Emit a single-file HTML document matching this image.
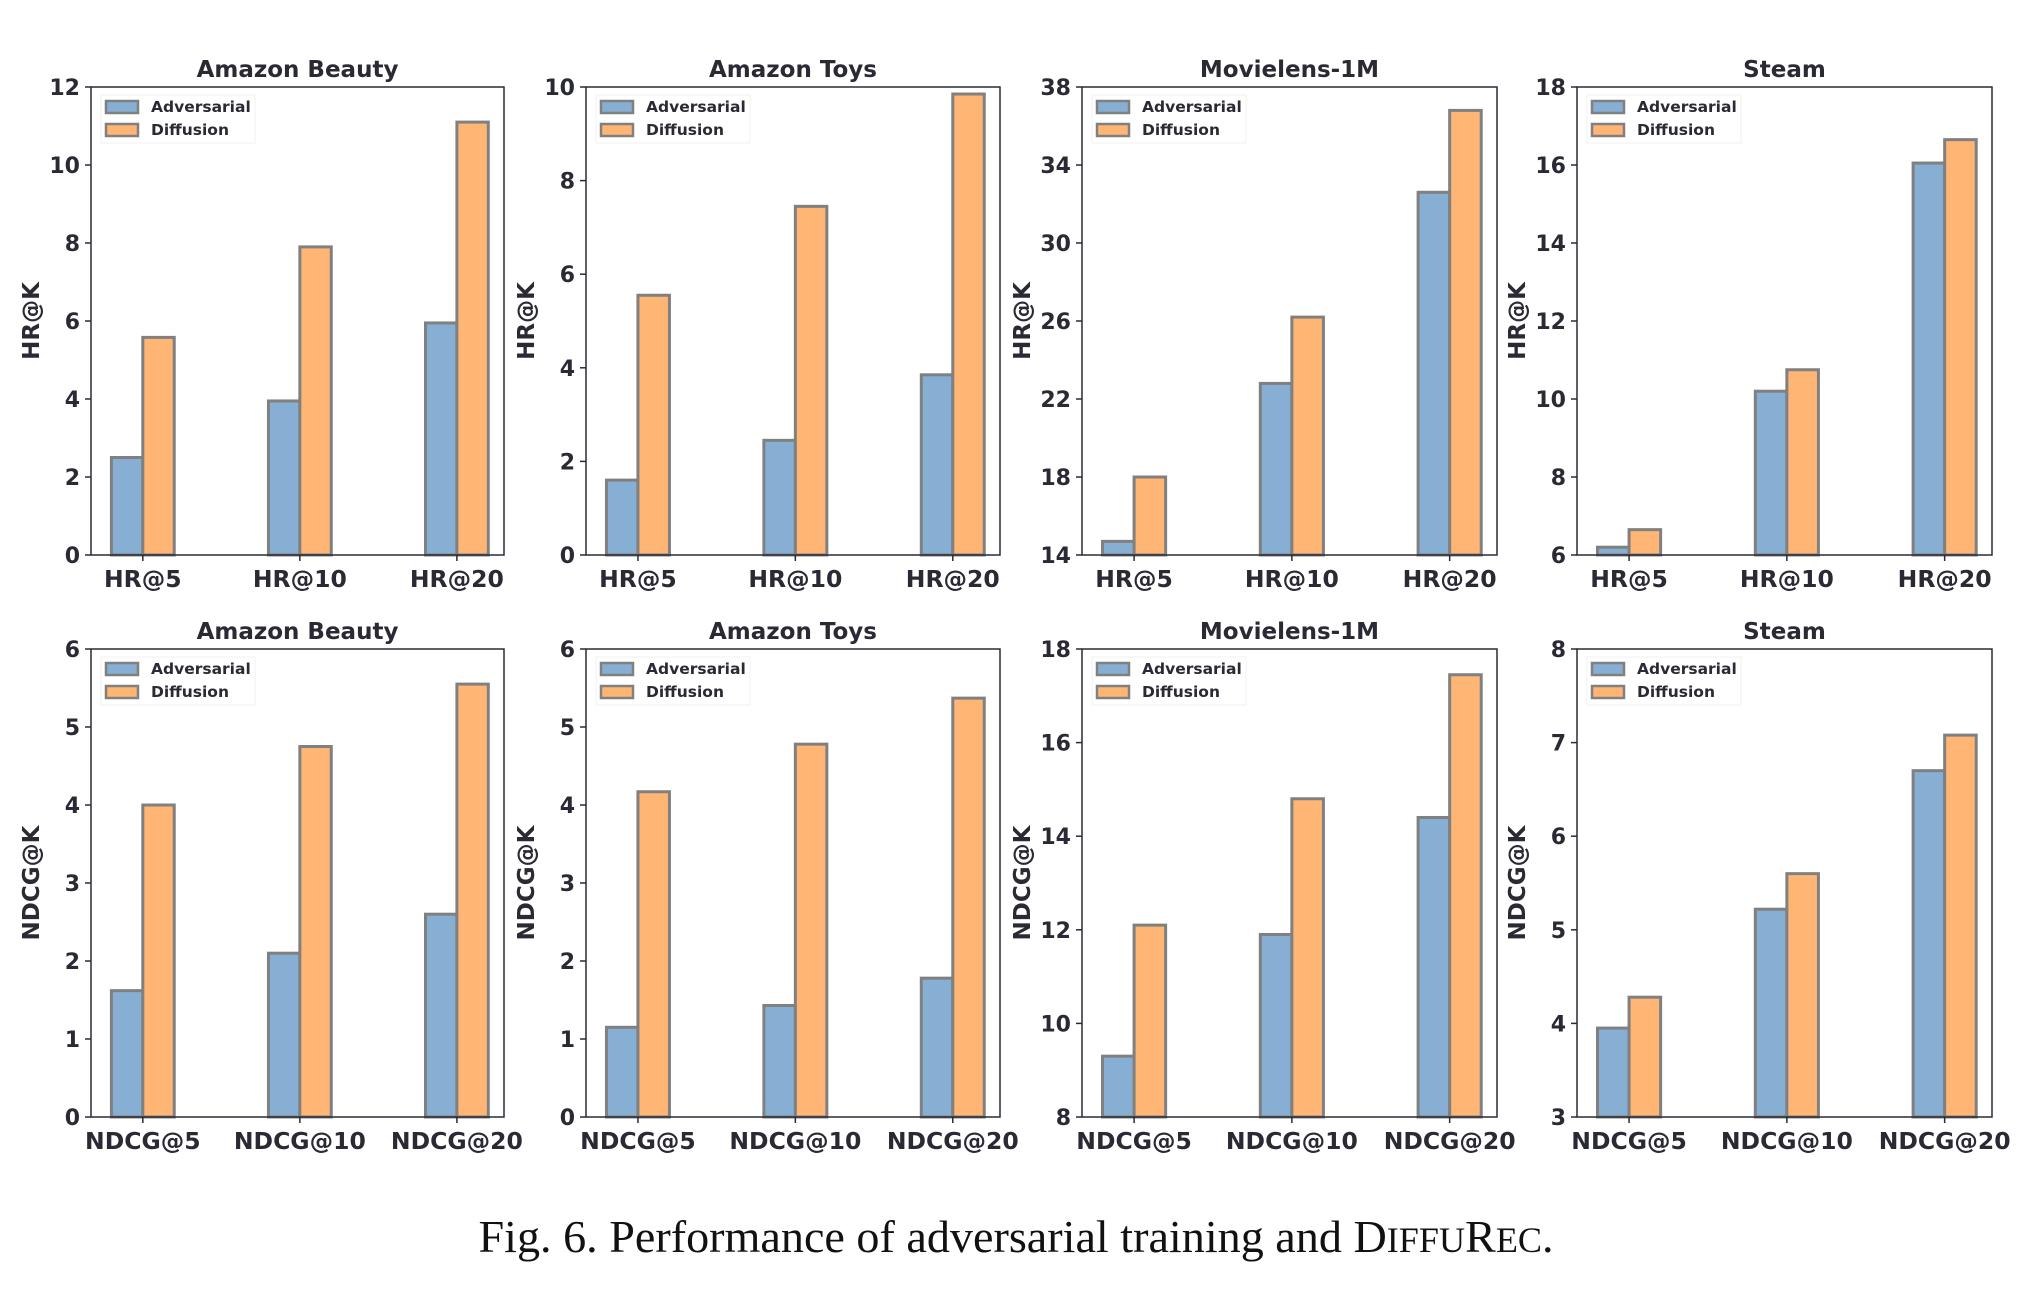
<!DOCTYPE html>
<html><head><meta charset="utf-8">
<style>
html,body{margin:0;padding:0;background:#fff;}
svg{display:block;}
text{font-family:"DejaVu Sans","Liberation Sans",sans-serif;font-weight:bold;fill:#2a2a35;}
.cap{font-family:"Liberation Serif",serif;font-weight:normal;fill:#111;}
</style></head>
<body>
<svg id="fig" width="2032" height="1304" viewBox="0 0 2032 1304" xmlns="http://www.w3.org/2000/svg">
<text class="cap" x="1016" y="1252" text-anchor="middle" font-size="46" textLength="1075" lengthAdjust="spacingAndGlyphs">Fig. 6.  Performance of adversarial training and D<tspan font-size="36">IFFU</tspan>R<tspan font-size="36">EC</tspan>.</text>
</svg>
<script>
const titles = ["Amazon Beauty","Amazon Toys","Movielens-1M","Steam"];
const hrCats = ["HR@5","HR@10","HR@20"];
const ndcgCats = ["NDCG@5","NDCG@10","NDCG@20"];
const hrAdv = [[2.5,3.95,5.95],[1.6,2.45,3.85],[14.7,22.8,32.6],[6.2,10.2,16.05]];
const hrDiff = [[5.58,7.9,11.1],[5.55,7.45,9.85],[18.0,26.2,36.8],[6.65,10.75,16.65]];
const ndcgAdv = [[1.62,2.1,2.6],[1.15,1.43,1.78],[9.3,11.9,14.4],[3.95,5.22,6.7]];
const ndcgDiff = [[4.0,4.75,5.55],[4.17,4.78,5.37],[12.1,14.8,17.45],[4.28,5.6,7.08]];
const hrTicks = [[0,2,4,6,8,10,12],[0,2,4,6,8,10],[14,18,22,26,30,34,38],[6,8,10,12,14,16,18]];
const ndcgTicks = [[0,1,2,3,4,5,6],[0,1,2,3,4,5,6],[8,10,12,14,16,18],[3,4,5,6,7,8]];

const svg = document.getElementById('fig');
const NS = "http://www.w3.org/2000/svg";
const colL = [91,586,1082,1577], colR = [504,1000,1497,1992];
const rowT = [87,649], rowB = [555,1117];
function mk(tag, attrs, parent){
  const e = document.createElementNS(NS, tag);
  for (const k in attrs) e.setAttribute(k, attrs[k]);
  (parent||svg).appendChild(e); return e;
}
function panel(r, c, cats, adv, diff, ticks, ylab){
  const g = mk('g', {});
  
  
  const L = colL[c], R = colR[c], T = rowT[r], B = rowB[r];
  const ymin = ticks[0], ymax = ticks[ticks.length-1];
  const y = v => B - (v - ymin) / (ymax - ymin) * (B - T);
  const xmin = -0.33, xmax = 2.3;
  const x = v => L + (v - xmin) / (xmax - xmin) * (R - L);
  const w = 0.2;
  for (let i = 0; i < cats.length; i++) {
    const b1 = mk('rect', {x: x(i - w), y: y(adv[i]), width: x(i) - x(i - w), height: B - y(adv[i]), fill: '#86afd3', stroke: '#808080', 'stroke-width': 3}, g);
    
    
    const b2 = mk('rect', {x: x(i), y: y(diff[i]), width: x(i + w) - x(i), height: B - y(diff[i]), fill: '#ffb574', stroke: '#808080', 'stroke-width': 3}, g);
    
    
    mk('line', {x1: x(i), x2: x(i), y1: B, y2: B + 6, stroke: '#2a2a35', 'stroke-width': 1.5}, g);
    const tl = mk('text', {x: x(i), y: B + 32, 'text-anchor': 'middle', 'font-size': 23.5}, g);
    tl.textContent = cats[i];
    
    
  }
  const fr = mk('rect', {x: L, y: T, width: R - L, height: B - T, fill: 'none', stroke: '#2a2a35', 'stroke-width': 1.5}, g);
  
  
  ticks.forEach(t => {
    mk('line', {x1: L - 6, x2: L, y1: y(t), y2: y(t), stroke: '#2a2a35', 'stroke-width': 1.5}, g);
    const tl = mk('text', {x: L - 11, y: y(t) + 8, 'text-anchor': 'end', 'font-size': 22}, g);
    tl.textContent = t;
    
    
  });
  const ti = mk('text', {x: (L + R) / 2, y: T - 10, 'text-anchor': 'middle', 'font-size': 23}, g);
  ti.textContent = titles[c];
  
  
  const yl = mk('text', {transform: `translate(${L - 52},${(T + B) / 2}) rotate(-90)`, 'text-anchor': 'middle', 'font-size': 23}, g);
  yl.textContent = ylab;
  
  
  const lg = mk('g', {}, g);
  
  
  mk('rect', {x: L + 10, y: T + 8, width: 154, height: 48, fill: '#fff', stroke: '#f0f0f0', 'stroke-width': 1}, lg);
  [['Adversarial', '#86afd3', 0], ['Diffusion', '#ffb574', 23]].forEach(([n, col, dy]) => {
    mk('rect', {x: L + 15, y: T + 14 + dy, width: 32, height: 12, fill: col, stroke: '#808080', 'stroke-width': 2.5}, lg);
    const t = mk('text', {x: L + 60, y: T + 25 + dy, 'font-size': 15.5}, lg);
    t.textContent = n;
    
    
  });
}
for (let c = 0; c < 4; c++) {
  panel(0, c, hrCats, hrAdv[c], hrDiff[c], hrTicks[c], 'HR@K');
  panel(1, c, ndcgCats, ndcgAdv[c], ndcgDiff[c], ndcgTicks[c], 'NDCG@K');
}
</script>
</body></html>
